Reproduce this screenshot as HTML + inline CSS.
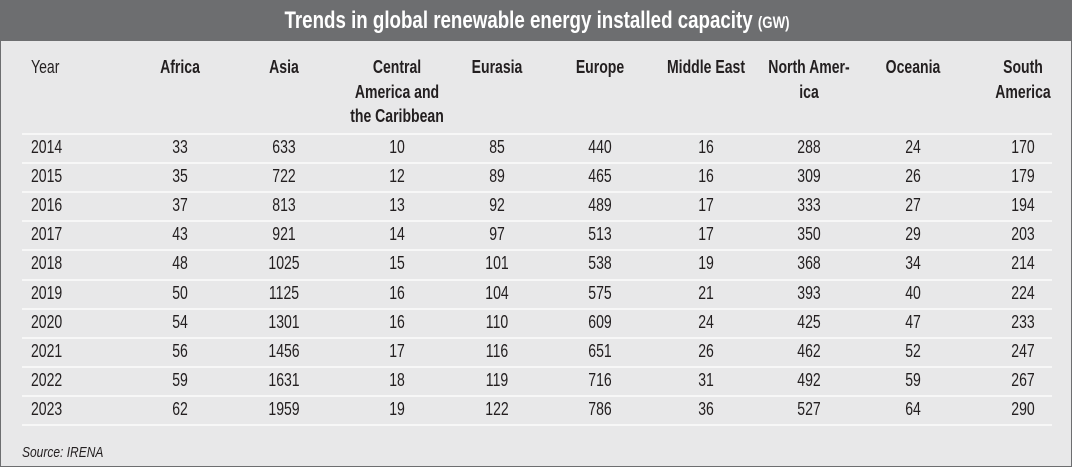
<!DOCTYPE html>
<html><head><meta charset="utf-8"><style>
body{margin:0;width:1072px;height:467px;overflow:hidden;background:#fff}
#w{position:absolute;left:0;top:0;width:1070px;height:465px;background:#e8e8e9;border:1px solid #6d6e70}
#t{position:absolute;left:0;top:0;width:1070px;height:40px;background:#6d6e70}
.tx{position:absolute;white-space:nowrap;font-family:"Liberation Sans",sans-serif;color:#231f20;font-size:18px;transform:translateX(-50%) scaleX(.78);line-height:18px}
.l{transform-origin:left;transform:scaleX(.78)}
.b{font-weight:bold}
.ln{position:absolute;left:21px;width:1030px;height:2px;background:#f7f7f7}
</style></head><body><div id="w"><div id="t"></div>
<div class="tx b" style="left:536px;top:8px;font-size:24px;line-height:24px;color:#fff">Trends in global renewable energy installed capacity <span style="font-size:17px">(GW)</span></div>
<div id="c"></div></div>
<script>
var c=document.getElementById('c'),h='';
var xs=[179,283,396,496,599,705,808,912,1022];
function t(x,y,s,cl,left){h+='<div class="tx '+(cl||'')+(left?' l':'')+'" style="left:'+x+'px;top:'+(y-10)+'px;'+(left?'transform:scaleX(.78)':'')+'">'+s+'</div>';}
t(30,67,'Year','',1);
var hd=[['Africa'],['Asia'],['Central','America and','the Caribbean'],['Eurasia'],['Europe'],['Middle East'],['North Amer-','ica'],['Oceania'],['South','America']];
hd.forEach(function(a,i){a.forEach(function(s,j){t(xs[i],67+j*24.5,s,'b')})});
var d=[[2014,33,633,10,85,440,16,288,24,170],[2015,35,722,12,89,465,16,309,26,179],[2016,37,813,13,92,489,17,333,27,194],[2017,43,921,14,97,513,17,350,29,203],[2018,48,1025,15,101,538,19,368,34,214],[2019,50,1125,16,104,575,21,393,40,224],[2020,54,1301,16,110,609,24,425,47,233],[2021,56,1456,17,116,651,26,462,52,247],[2022,59,1631,18,119,716,31,492,59,267],[2023,62,1959,19,122,786,36,527,64,290]];
for(var r=0;r<=10;r++)h+='<div class="ln" style="top:'+Math.round(132+r*29.1)+'px"></div>';
d.forEach(function(row,r){var y=147+r*29.1;t(30,y,row[0],'',1);for(var i=1;i<10;i++)t(xs[i-1],y,row[i]);});
h+='<div class="tx l" style="left:21px;top:443px;font-size:15px;font-style:italic;transform:scaleX(.8)">Source: IRENA</div>';
c.innerHTML=h;
</script></body></html>
